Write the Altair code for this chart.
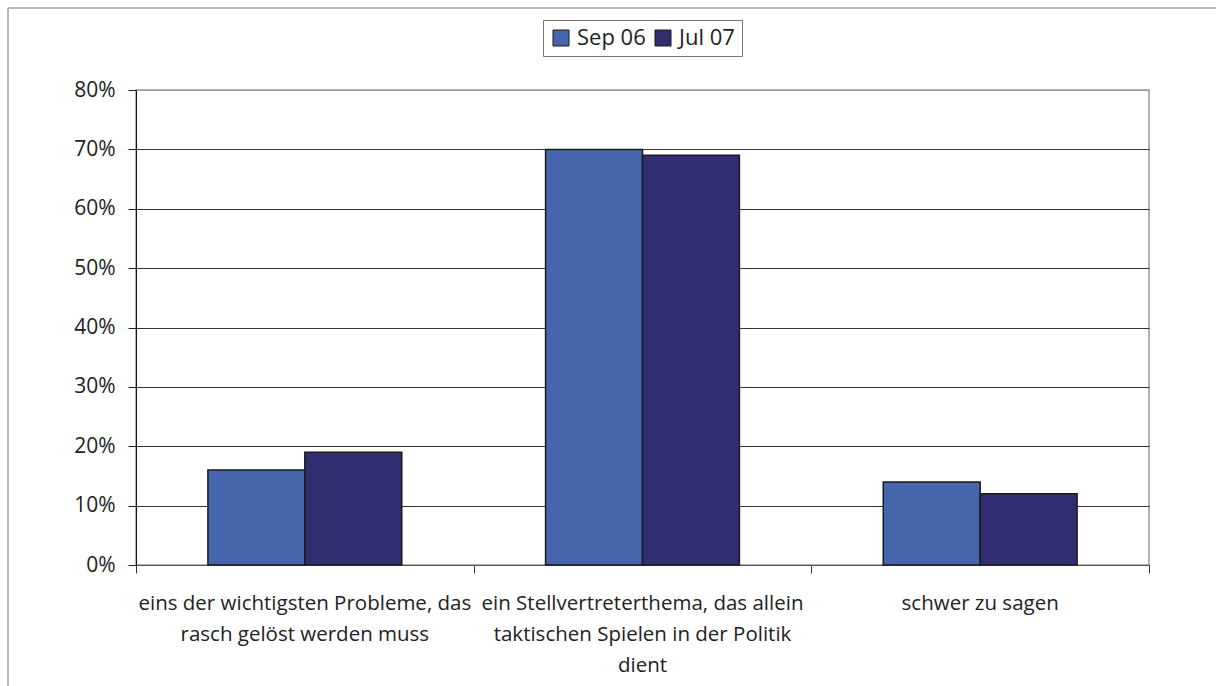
import altair as alt
import pandas as pd

categories = [
    "eins der wichtigsten Probleme, das\nrasch gelöst werden muss",
    "ein Stellvertreterthema, das allein\ntaktischen Spielen in der Politik\ndient",
    "schwer zu sagen",
]
series = ["Sep 06", "Jul 07"]
sep06 = [0.16, 0.70, 0.14]
jul07 = [0.19, 0.69, 0.12]
y_ticks = [0.0, 0.1, 0.2, 0.3, 0.4, 0.5, 0.6, 0.7, 0.8]
colors = ["#4565AD", "#302D70"]

rows = []
for c, a, b in zip(categories, sep06, jul07):
    rows.append({"cat": c, "series": series[0], "value": a})
    rows.append({"cat": c, "series": series[1], "value": b})
df = pd.DataFrame(rows)

label_rows = []
for c in categories:
    for i, t in enumerate(c.split("\n")):
        label_rows.append({"cat": c, "line": i, "text": t})
ldf = pd.DataFrame(label_rows)

FONT = "Open Sans"
TXT = "#222"

xscale = alt.Scale(paddingInner=0, paddingOuter=0)

bars = alt.Chart(df).mark_bar(stroke="#1a1a1a", strokeWidth=1.5).encode(
    x=alt.X("cat:N", sort=categories, title=None, scale=xscale,
            axis=alt.Axis(labels=False, tickBand="extent", tickSize=8, tickColor="#333",
                          domainColor="#555")),
    xOffset=alt.XOffset("series:N", sort=series,
                        scale=alt.Scale(paddingInner=0, paddingOuter=0.742)),
    y=alt.Y("value:Q", title=None,
            scale=alt.Scale(domain=[0, 0.8], nice=False),
            axis=alt.Axis(values=y_ticks, format=".0%", tickSize=8, tickColor="#222",
                          domainColor="#111", labelPadding=13, labelFontSize=21,
                          labelFont=FONT, labelColor=TXT,
                          gridColor=alt.condition("datum.value >= 0.8", alt.value("#999"), alt.value("#333")))),
    color=alt.Color("series:N", sort=series, title=None,
                    scale=alt.Scale(domain=series, range=colors),
                    legend=alt.Legend(orient="none", legendX=407, legendY=-70,
                                      direction="horizontal", symbolType="square",
                                      symbolSize=256, symbolStrokeColor="#1a1a1a",
                                      symbolStrokeWidth=1, labelFontSize=22,
                                      labelFont=FONT, labelColor=TXT,
                                      strokeColor="#777", padding=7,
                                      labelOffset=5, columnPadding=6,
                                      symbolOpacity=1)),
)

label_layers = []
for i in range(3):
    label_layers.append(
        alt.Chart(ldf).transform_filter(alt.datum.line == i).mark_text(
            font=FONT, fontSize=20.5, color=TXT, align="center", baseline="alphabetic"
        ).encode(
            x=alt.X("cat:N", sort=categories, scale=xscale),
            y=alt.value(520 + 31 * i),
            text="text:N",
        )
    )

border_left = alt.Chart(alt.Data(values=[{}])).mark_rule(color="#a0a0a0", strokeWidth=1.5).encode(
    x=alt.value(-128), y=alt.value(-82), y2=alt.value(600))
border_top = alt.Chart(alt.Data(values=[{}])).mark_rule(color="#a0a0a0", strokeWidth=1.5).encode(
    x=alt.value(-128), x2=alt.value(1085), y=alt.value(-82))

chart = alt.layer(bars, *label_layers, border_left, border_top).properties(
    width=1013, height=475,
    autosize=alt.AutoSizeParams(type="none"),
    padding={"left": 136, "top": 90, "right": 67, "bottom": 121},
    background="white",
).configure_view(stroke="#999", strokeWidth=1.5).configure_axis(grid=True).configure_axisX(grid=False)

chart.save("out.html", embed_options={"renderer": "svg", "actions": False})
